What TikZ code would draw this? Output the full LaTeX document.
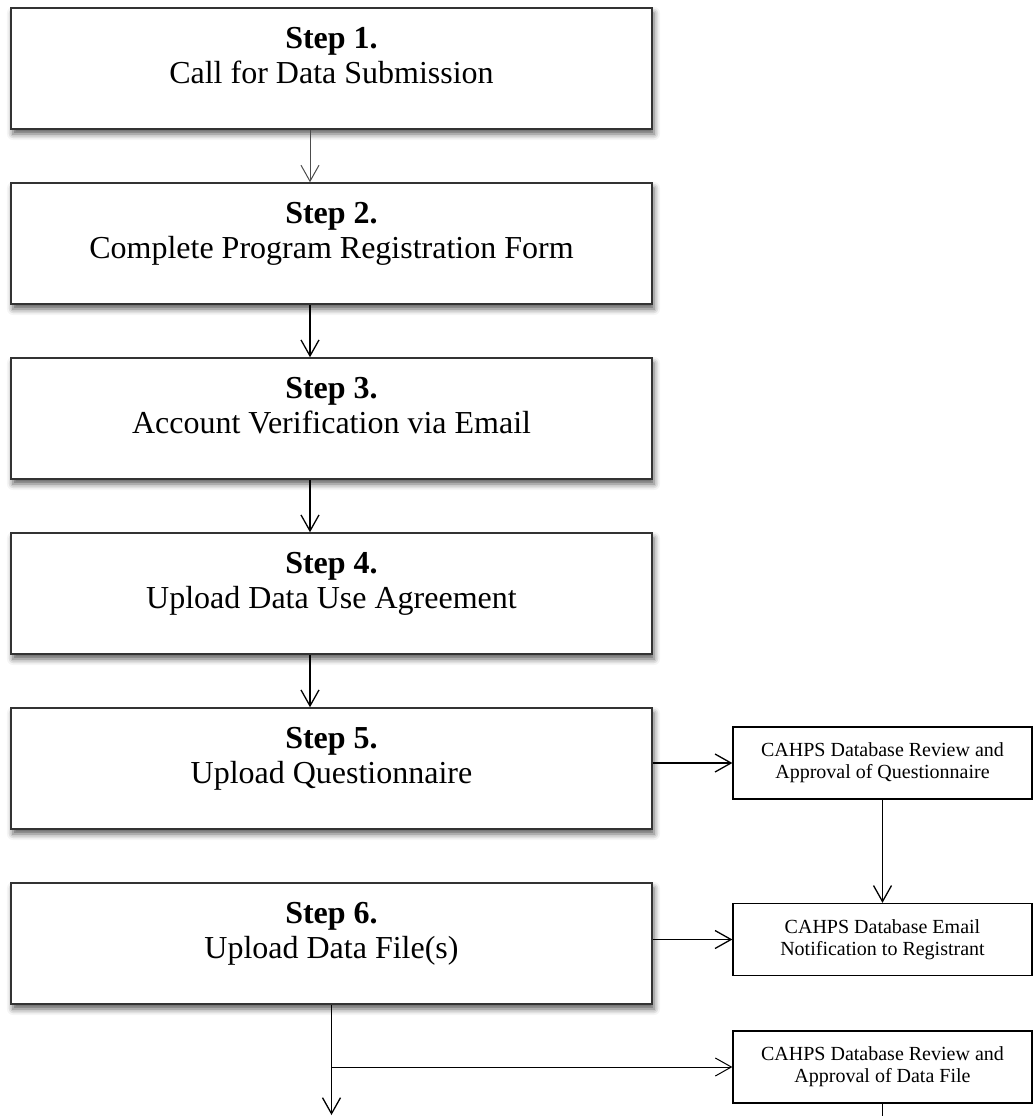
\documentclass[tikz,border=0pt]{standalone}
\usepackage{fontspec}
\setmainfont{Liberation Serif}
\usetikzlibrary{positioning, arrows.meta, shadows.blur}

\tikzset{
  stepbox/.style={rectangle, draw=black!80, line width=1.5pt, fill=white,
    minimum width=641pt, minimum height=121pt, align=center, inner sep=0,
    font=\fontsize{32}{35}\selectfont, text depth=27pt,
    blur shadow={shadow xshift=2pt, shadow yshift=-5pt, shadow blur radius=6pt, shadow opacity=65}},
  sidebox/.style={rectangle, draw=black, line width=1.3pt, fill=white,
    minimum width=299pt, minimum height=72pt, align=center, inner sep=0,
    font=\fontsize{20}{22}\selectfont},
  flow/.style={-{Straight Barb[length=16pt, width=18pt]}, line width=1.3pt}
}

\begin{document}
\begin{tikzpicture}[x=1pt, y=-1pt, node distance=52.5pt]
  \useasboundingbox (0,0) rectangle (1034,1116);

  % main steps
  \node[stepbox] (step1) at (331.5, 68.5) {\textbf{Step 1.}\\Call for Data Submission};
  \node[stepbox, below=of step1] (step2) {\textbf{Step 2.}\\Complete Program Registration Form};
  \node[stepbox, below=of step2] (step3) {\textbf{Step 3.}\\Account Verification via Email};
  \node[stepbox, below=of step3] (step4) {\textbf{Step 4.}\\Upload Data Use Agreement};
  \node[stepbox, below=of step4] (step5) {\textbf{Step 5.}\\Upload Questionnaire};
  \node[stepbox, below=of step5] (step6) {\textbf{Step 6.}\\Upload Data File(s)};

  % database side
  \node[sidebox] (review1) at (882.5, 763) {CAHPS Database Review and\\Approval of Questionnaire};
  \node[sidebox] (notify) at (882.5, 939.5) {CAHPS Database Email\\Notification to Registrant};
  \node[sidebox] (review2) at (882.5, 1067) {CAHPS Database Review and\\Approval of Data File};

  \coordinate (out) at (331.5, 1115);
  \coordinate (cend) at (882.5, 1116);

  \draw[flow, line width=1pt, draw=black!70] ([xshift=-21.5pt]step1.south) -- ([xshift=-21.5pt]step2.north);
  \foreach \i/\j in {2/3, 3/4, 4/5}
    \draw[flow] ([xshift=-21.5pt]step\i.south) -- ([xshift=-21.5pt]step\j.north);

  \draw[flow] (step5.east |- review1.west) -- (review1.west);
  \draw[flow] (review1.south) -- (notify.north);
  \draw[flow] (step6.east |- notify.west) -- (notify.west);
  \draw[flow] (step6.south) -- (out);
  \draw[flow, line width=1pt] (step6.south |- review2.west) -- (review2.west);
  \draw[line width=1.3pt] (review2.south) -- (cend);
\end{tikzpicture}
\end{document}
